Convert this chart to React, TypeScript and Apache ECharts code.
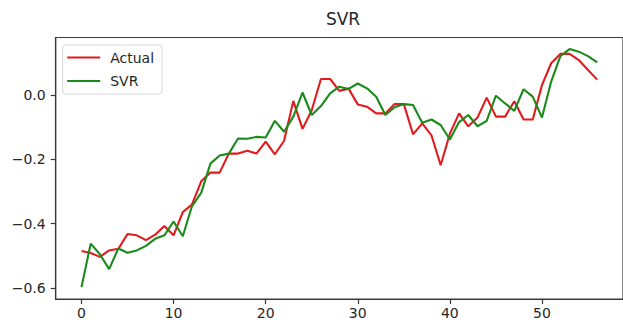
import React, { useEffect, useRef } from "react";
import * as echarts from "echarts";

const xIndex: number[] = Array.from({ length: 57 }, (_, i) => i);

const actual: number[] = [
  -0.485, -0.491, -0.503, -0.483, -0.478, -0.432, -0.436, -0.451, -0.434, -0.407,
  -0.436, -0.364, -0.34, -0.268, -0.241, -0.241, -0.182, -0.182, -0.173, -0.182,
  -0.145, -0.184, -0.142, -0.018, -0.105, -0.047, 0.05, 0.05, 0.013, 0.02,
  -0.029, -0.036, -0.057, -0.057, -0.028, -0.028, -0.122, -0.088, -0.125, -0.218,
  -0.12, -0.057, -0.097, -0.07, -0.008, -0.067, -0.067, -0.019, -0.076, -0.076,
  0.031, 0.099, 0.128, 0.128, 0.109, 0.078, 0.048,
];

const svr: number[] = [
  -0.597, -0.462, -0.495, -0.541, -0.477, -0.49, -0.483, -0.469, -0.447, -0.436,
  -0.393, -0.439, -0.345, -0.304, -0.213, -0.188, -0.182, -0.135, -0.136, -0.13,
  -0.132, -0.08, -0.114, -0.067, 0.008, -0.062, -0.034, 0.005, 0.026, 0.019,
  0.036, 0.021, -0.005, -0.062, -0.038, -0.028, -0.031, -0.086, -0.076, -0.093,
  -0.138, -0.084, -0.062, -0.097, -0.08, -0.002, -0.026, -0.049, 0.018, -0.005,
  -0.07, 0.042, 0.121, 0.143, 0.135, 0.121, 0.102,
];

const xTicks: number[] = [0, 10, 20, 30, 40, 50];
const yTicks: number[] = [-0.6, -0.4, -0.2, 0.0];

const FONT = "DejaVu Sans";
const TEXT = "#262626";
const FRAME = "#3a3a3a";

export default function App() {
  const ref = useRef<HTMLDivElement>(null);
  useEffect(() => {
    if (!ref.current) return;
    const chart = echarts.init(ref.current, undefined, { renderer: "svg" });
    const fmtY = (v: number) => {
      const s = Math.abs(v).toFixed(1);
      return v < -1e-9 ? "\u2212" + s : s;
    };
    chart.setOption({
      animation: false,
      backgroundColor: "#ffffff",
      title: {
        text: "SVR",
        left: 343,
        top: 10,
        textAlign: "center",
        padding: 0,
        textStyle: { fontFamily: FONT, fontSize: 17, fontWeight: "normal", color: TEXT },
      },
      legend: {
        orient: "vertical",
        left: 62.7,
        top: 45,
        width: 101,
        padding: [4.5, 8, 5, 4.5],
        itemGap: 7.5,
        itemWidth: 33,
        itemHeight: 2,
        icon: "rect",
        borderColor: "#d8d8d8",
        borderWidth: 1,
        borderRadius: 3,
        backgroundColor: "rgba(255,255,255,0.9)",
        textStyle: {
          fontFamily: FONT,
          fontSize: 14,
          color: TEXT,
          lineHeight: 16,
          padding: [0, 0, 0, 5],
        },
        data: ["Actual", "SVR"],
      },
      grid: {
        left: 55.7,
        top: 37.5,
        width: 577.8,
        height: 261.5,
        show: true,
        borderColor: FRAME,
        borderWidth: 1.2,
        backgroundColor: "transparent",
        containLabel: false,
      },
      xAxis: {
        type: "value",
        min: -2.8,
        max: 58.8,
        axisLine: { show: true, onZero: false, lineStyle: { color: FRAME, width: 1.2 } },
        splitLine: { show: false },
        axisTick: {
          show: true,
          length: 5,
          inside: false,
          lineStyle: { color: FRAME, width: 1.2 },
          customValues: xTicks,
        },
        axisLabel: {
          margin: 7,
          fontFamily: FONT,
          fontSize: 14,
          color: TEXT,
          customValues: xTicks,
          formatter: (v: number) => String(Math.round(v)),
        },
      },
      yAxis: {
        type: "value",
        min: -0.634,
        max: 0.179,
        axisLine: { show: true, onZero: false, lineStyle: { color: FRAME, width: 1.2 } },
        splitLine: { show: false },
        axisTick: {
          show: true,
          length: 5,
          inside: false,
          lineStyle: { color: FRAME, width: 1.2 },
          customValues: yTicks,
        },
        axisLabel: {
          margin: 10,
          fontFamily: FONT,
          fontSize: 14,
          color: TEXT,
          customValues: yTicks,
          formatter: fmtY,
        },
      },
      series: [
        {
          name: "Actual",
          type: "line",
          data: xIndex.map((x, i) => [x, actual[i]]),
          showSymbol: false,
          symbol: "none",
          itemStyle: { color: "#e31a1c" },
          lineStyle: { color: "#e31a1c", width: 2.1 },
          z: 2,
        },
        {
          name: "SVR",
          type: "line",
          data: xIndex.map((x, i) => [x, svr[i]]),
          showSymbol: false,
          symbol: "none",
          itemStyle: { color: "#1a8a1a" },
          lineStyle: { color: "#1a8a1a", width: 2.1 },
          z: 3,
        },
      ],
    });
    return () => chart.dispose();
  }, []);
  return (
    <div
      ref={ref}
      style={{ position: "fixed", left: 0, top: 0, width: 623, height: 323 }}
    />
  );
}
